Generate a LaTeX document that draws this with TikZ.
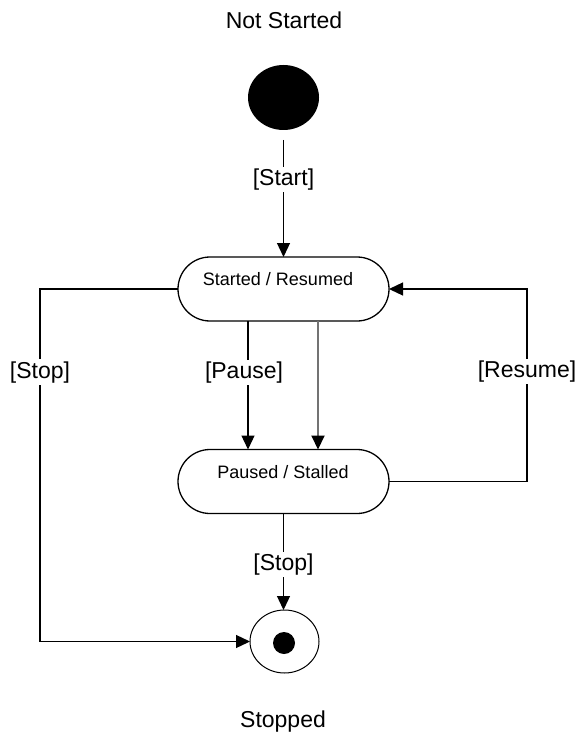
\documentclass[tikz,border=0pt]{standalone}
\usepackage{fontspec}
\setmainfont{Liberation Sans}
\usetikzlibrary{arrows.meta,shapes.geometric}
\begin{document}
\begin{tikzpicture}[x=1pt,y=-1pt,
  conn/.style={line width=1.3pt,-{Triangle[length=14pt,width=13pt,color=black]}},
  plainline/.style={line width=1.3pt},
  statebox/.style={draw,line width=1.3pt,rectangle,rounded corners=32pt,minimum width=211pt,minimum height=64pt,outer sep=0pt,inner sep=0pt},
  lbl/.style={fill=white,inner sep=2pt,font=\fontsize{23}{27}\selectfont},
  boxtxt/.style={inner sep=0pt,font=\fontsize{18}{22}\selectfont},
  title/.style={inner sep=0pt,font=\fontsize{23}{27}\selectfont}]
\useasboundingbox (0,0) rectangle (579,735);
\fill[white] (0,0) rectangle (579,735);
% titles
\node[title] (nstitle) at (284,20) {Not Started};
\node[title] (sttitle) at (283,722) {Stopped};
% initial state
\node[ellipse,fill=black,minimum width=71pt,minimum height=65pt,inner sep=0pt,outer sep=0pt] (init) at (283.5,97.5) {};
% states
\node[statebox] (started) at (283.5,289) {};
\node[boxtxt] (startedtxt) at (278,279) {Started / Resumed};
\node[statebox] (paused) at (283.5,481.5) {};
\node[boxtxt] (pausedtxt) at (283,472) {Paused / Stalled};
% final state
\node[ellipse,draw,line width=1pt,minimum width=69pt,minimum height=63pt,inner sep=0pt,outer sep=0pt] (final) at (284.5,641.5) {};
\node[circle,fill=black,minimum size=22pt,inner sep=0pt] (finaldot) at (284,643) {};
% helper coordinates
\coordinate (xa) at (248,0);
\coordinate (xb) at (318,0);
\coordinate (xl) at (40,0);
\coordinate (xr) at (527,0);
% connectors
\draw[conn,shorten <=10pt] (init.south) -- node[lbl,pos=0.39] {[Start]} (started.north);
\draw[conn] (xa |- started.south) -- node[lbl,pos=0.40,xshift=-4pt] {[Pause]} (xa |- paused.north);
\draw[conn,line width=2pt,draw=black!55] (xb |- started.south) -- (xb |- paused.north);
\draw[conn] (started.west) -- (xl |- started.west) -- node[lbl,pos=0.236] {[Stop]} (xl |- final.west) -- (final.west);
\draw[conn] (paused.east) -- (xr |- paused.east) -- node[lbl,pos=0.57] {[Resume]} (xr |- started.east) -- (started.east);
\draw[conn] (paused.south) -- node[lbl,pos=0.53] {[Stop]} (paused.south |- final.north);
\end{tikzpicture}
\end{document}
